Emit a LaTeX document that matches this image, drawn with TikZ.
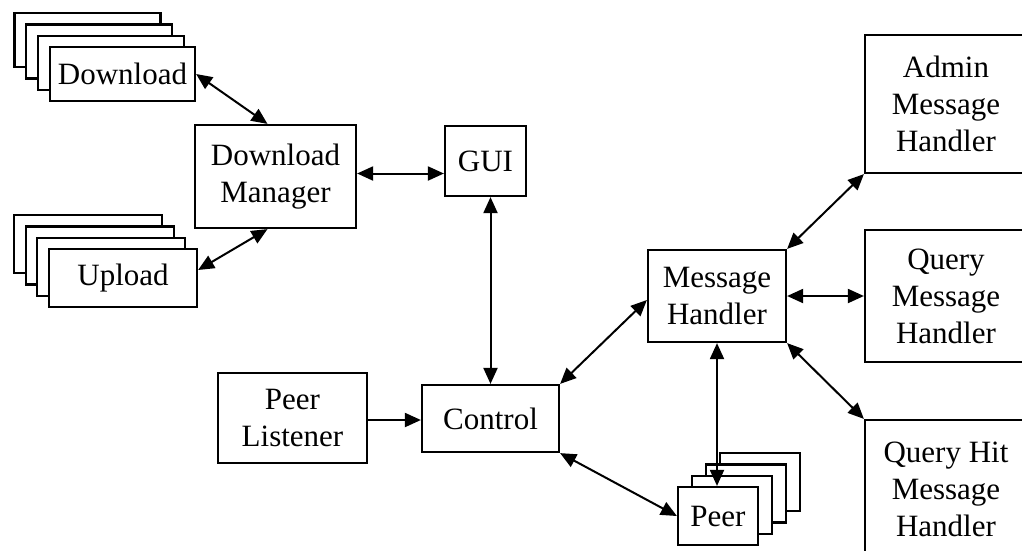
\documentclass[tikz,border=0pt]{standalone}
\usepackage{fontspec}
\setmainfont{Liberation Serif}
\usetikzlibrary{arrows.meta}
\tikzset{
    part-box/.style = {draw=black, fill=white, line width=2.2pt, rectangle, align=center, inner sep=0pt, font=\fontsize{31}{37}\selectfont},
    side-box/.style = {part-box, minimum width=162pt},
    link/.style = {{Triangle[length=16pt,width=14pt]}-{Triangle[length=16pt,width=14pt]}, line width=2pt},
    feed/.style = {-{Triangle[length=16pt,width=14pt]}, line width=2pt},
}

\begin{document}
\begin{tikzpicture}[x=1pt, y=-1pt]
\useasboundingbox (0,0) rectangle (1022,550);
\foreach \k in {3,2,1}
    \node[part-box, minimum width=146pt, minimum height=54pt] (download-\k) at (122.5-11.7*\k, 74-11.3*\k) {};
\node[part-box, minimum width=145pt, minimum height=54pt] (download) at (122.5,74) {Download};
\foreach \k in {3,2,1}
    \node[part-box, minimum width=148pt, minimum height=58pt] (upload-\k) at (123-11.7*\k, 278-11.3*\k) {};
\node[part-box, minimum width=148pt, minimum height=58pt] (upload) at (123,278) {Upload};
\node[part-box, minimum width=161pt, minimum height=103pt] (dlmanager) at (275.5,176.5) {Download\\Manager};
\node[part-box, minimum width=81pt, minimum height=70pt] (gui) at (485.5,161) {GUI};
\node[part-box, minimum width=149pt, minimum height=90pt] (peerlistener) at (292.5,418) {Peer\\Listener};
\node[part-box, minimum width=137pt, minimum height=67pt] (control) at (490.5,418.5) {Control};
\node[part-box, minimum width=138pt, minimum height=92pt] (msghandler) at (717,296) {Message\\Handler};
\foreach \k in {3,2,1}
    \node[part-box, minimum width=80pt, minimum height=58pt] (peer-\k) at (718+14*\k, 516-11.3*\k) {};
\node[part-box, minimum width=80pt, minimum height=58pt] (peer) at (718,516) {Peer};
\node[side-box, minimum height=138pt] (admin) at (946,104) {Admin\\Message\\Handler};
\node[side-box, minimum height=132pt] (query) at (946,296) {Query\\Message\\Handler};
\node[side-box, minimum height=138pt] (queryhit) at (946,489) {Query Hit\\Message\\Handler};

\draw[link] (download.east) -- ([xshift=-8pt]dlmanager.north);
\draw[link] ([yshift=8pt]upload.east) -- ([xshift=-8pt]dlmanager.south);
\draw[link] ([yshift=3pt]dlmanager.east) coordinate (dm-out) -- (dm-out -| gui.west);
\draw[link] (gui.south -| control.north) -- (control.north);
\draw[feed] ([yshift=-2pt]peerlistener.east) -- ([yshift=-2pt]peerlistener.east -| control.west);
\draw[link] (control.north east) -- ([yshift=-4pt]msghandler.west);
\draw[link] (control.south east) -- (peer.west);
\draw[link] (msghandler.south) -- (msghandler.south |- peer.north);
\draw[link] (msghandler.north east) -- (admin.south west);
\draw[link] (msghandler.east) -- (query.west);
\draw[link] (msghandler.south east) -- (queryhit.north west);
\end{tikzpicture}
\end{document}
